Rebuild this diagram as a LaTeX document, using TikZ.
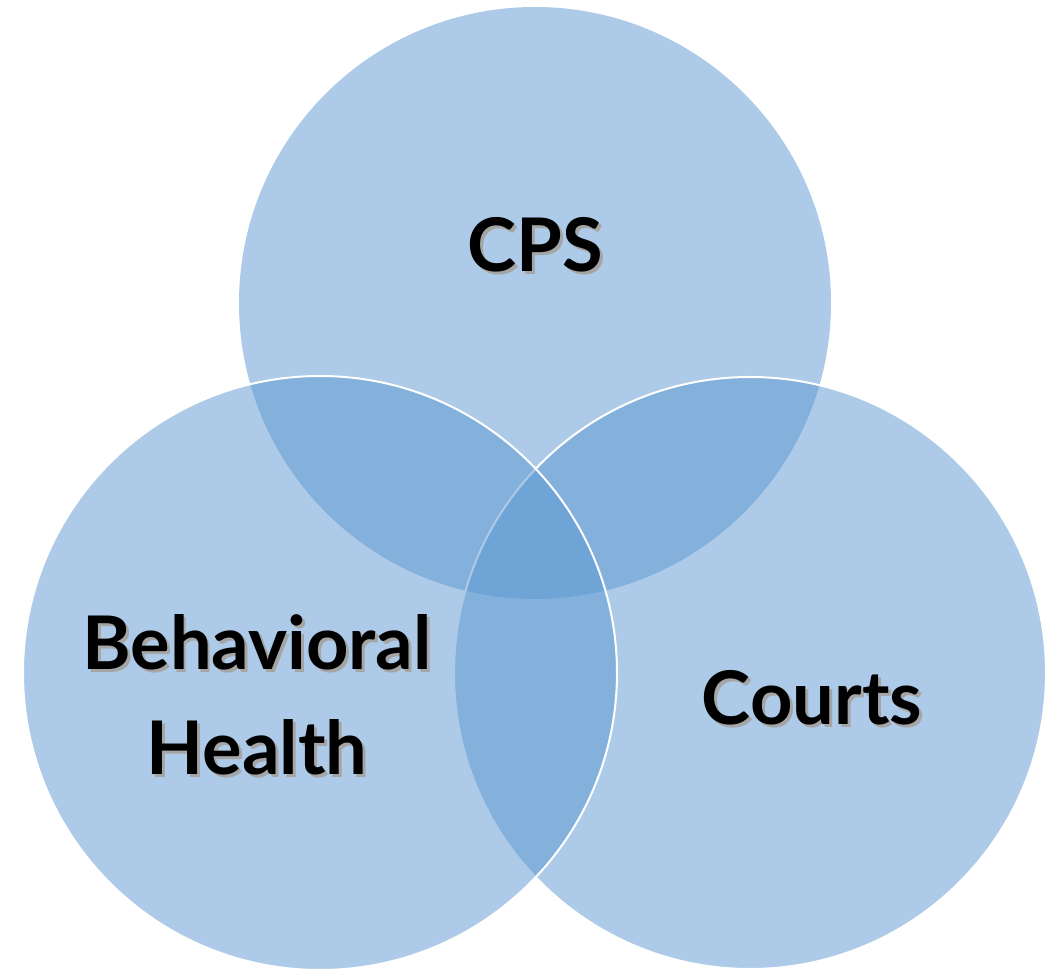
\documentclass[tikz,border=0pt]{standalone}
\usepackage{fontspec}
\newfontfamily\lblfont{Lato}
\definecolor{vennblue}{RGB}{91,151,209}
\definecolor{shadowgray}{RGB}{165,165,165}
\newcommand{\shadowtxt}[1]{\rlap{\hspace{3pt}\raisebox{-3pt}{\textcolor{shadowgray}{#1}}}#1}
\begin{document}
\begin{tikzpicture}[x=1pt,y=1pt,
  venn/.style={fill=vennblue,fill opacity=0.5,draw=white,line width=2pt},
  vennnoline/.style={fill=vennblue,fill opacity=0.5,draw=none},
  lbl/.style={font=\lblfont\bfseries\fontsize{74}{105}\selectfont,align=center,text=black,inner sep=0pt}]
\useasboundingbox (0,0) rectangle (1053,970);
% circles: top (drawn first), right, left (on top)
\path[vennnoline] (535,667) circle (296);
\path[venn] (750,297) circle (296);
\path[venn] (320,297) circle (297);
% labels with soft shadows
\node[lbl] (cps) at (535,724) {\shadowtxt{CPS}};
\node[lbl] (bh) at (257,274) {\shadowtxt{Behavioral}\\\shadowtxt{Health}};
\node[lbl] (cr) at (812,271) {\shadowtxt{Courts}};
\end{tikzpicture}
\end{document}
